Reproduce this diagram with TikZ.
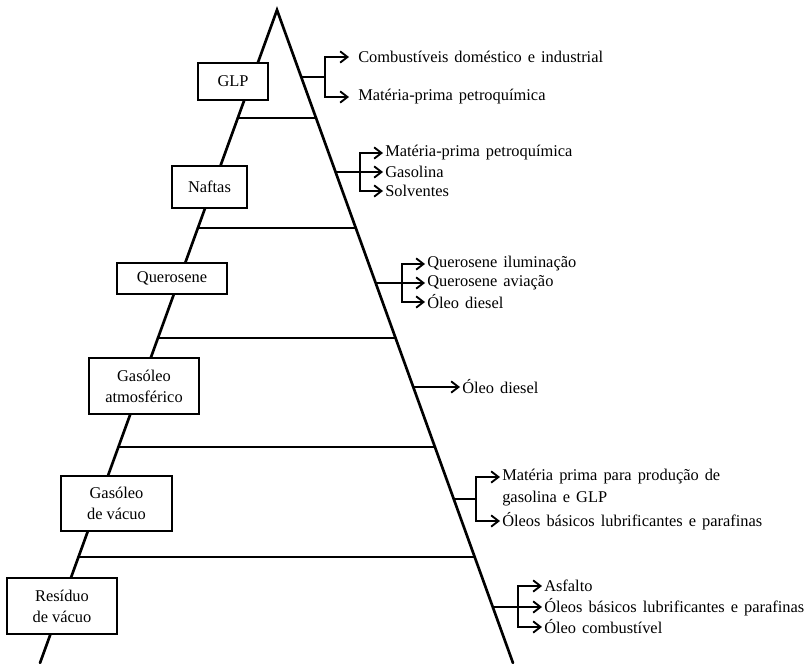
\documentclass[tikz,border=0pt]{standalone}
\usepackage{fontspec}
\setmainfont{Liberation Serif}
\usetikzlibrary{arrows.meta,calc}
\newcommand{\prodfont}{\fontsize{12.3}{15}\selectfont\spaceskip=4.5pt plus 1pt\relax}
\begin{document}
\begin{tikzpicture}[x=0.75pt,y=-0.75pt,
  edge/.style={line width=2pt,line cap=round},
  box/.style={draw,line width=2pt,fill=white,align=center,inner sep=0pt,
    font=\fontsize{12.3}{15.75}\selectfont},
  prod/.style={anchor=west,inner ysep=0pt,inner xsep=1.5pt,font=\prodfont},
  stem/.style={line width=1.4pt},
  arr/.style={line width=1.4pt,-{Straight Barb[length=5.5pt,width=8.5pt,line width=1.4pt]}}]
\useasboundingbox (0,0) rectangle (805,663);
\coordinate (A) at (277,10);
\coordinate (BL) at (40,663);
\coordinate (BR) at (513,663);
\draw[edge] (BL) -- (A) -- (BR);
\foreach \y in {118,228,338,447,557}{
  \draw[edge] ($(A)!{(\y-10)/653}!(BL)$) -- ($(A)!{(\y-10)/653}!(BR)$);
}
% boxes
\node[box,minimum width=52.5pt,minimum height=27.75pt] (glp) at (233,81.5) {GLP};
\node[box,minimum width=56.25pt,minimum height=31.5pt] (naf) at (209.5,187) {Naftas};
\node[box,minimum width=82.5pt,minimum height=23.25pt] (que) at (172,278.5) {Querosene};
\node[box,minimum width=82.5pt,minimum height=42pt] (gat) at (144,386) {Gasóleo\\atmosférico};
\node[box,minimum width=83.25pt,minimum height=41.25pt] (gva) at (116.5,503.5) {Gasóleo\\de vácuo};
\node[box,minimum width=82.5pt,minimum height=42pt] (rva) at (62,606) {Resíduo\\de vácuo};
% GLP outputs
\coordinate (g0) at ($(A)!{(77-10)/653}!(BR)$);
\coordinate (gj) at (325,77);
\node[prod,inner xsep=6.75pt] (g1) at (349,57) {Combustíveis doméstico e industrial};
\node[prod,inner xsep=6.75pt] (g2) at (349,97) {Matéria-prima petroquímica};
\draw[stem] (g0) -- (gj);
\draw[arr] (gj) |- (g1.west);
\draw[arr] (gj) |- (g2.west);
% Naftas outputs
\coordinate (n0) at ($(A)!{(172-10)/653}!(BR)$);
\coordinate (nj) at (360,172);
\node[prod] (n1) at (383,153) {Matéria-prima petroquímica};
\node[prod] (n2) at (383,172) {Gasolina};
\node[prod] (n3) at (383,191) {Solventes};
\draw[stem] (n0) -- (nj);
\draw[arr] (nj) |- (n1.west);
\draw[arr] (nj) -- (n2.west);
\draw[arr] (nj) |- (n3.west);
% Querosene outputs
\coordinate (q0) at ($(A)!{(283-10)/653}!(BR)$);
\coordinate (qj) at (402,283);
\node[prod] (q1) at (425,264) {Querosene iluminação};
\node[prod] (q2) at (425,283) {Querosene aviação};
\node[prod] (q3) at (425,302) {Óleo diesel};
\draw[stem] (q0) -- (qj);
\draw[arr] (qj) |- (q1.west);
\draw[arr] (qj) -- (q2.west);
\draw[arr] (qj) |- (q3.west);
% Gasoleo atmosferico outputs
\coordinate (a0) at ($(A)!{(387-10)/653}!(BR)$);
\node[prod] (a1) at (460,387) {Óleo diesel};
\draw[arr] (a0) -- (a1.west);
% Gasoleo de vacuo outputs
\coordinate (v0) at ($(A)!{(499-10)/653}!(BR)$);
\coordinate (vj) at (476,499);
\node[prod] (v1) at (500,477) {Matéria prima para produção de};
\node[prod] (v2) at (500,499) {gasolina e GLP};
\node[prod] (v3) at (500,521) {Óleos básicos lubrificantes e parafinas};
\draw[stem] (v0) -- (vj);
\draw[arr] (vj) |- (v1.west);
\draw[arr] (vj) |- (v3.west);
% Residuo de vacuo outputs
\coordinate (r0) at ($(A)!{(607-10)/653}!(BR)$);
\coordinate (rj) at (518,607);
\node[prod] (r1) at (542,586) {Asfalto};
\node[prod] (r2) at (542,607) {Óleos básicos lubrificantes e parafinas};
\node[prod] (r3) at (542,627) {Óleo combustível};
\draw[stem] (r0) -- (rj);
\draw[arr] (rj) |- (r1.west);
\draw[arr] (rj) -- (r2.west);
\draw[arr] (rj) |- (r3.west);
\end{tikzpicture}
\end{document}
